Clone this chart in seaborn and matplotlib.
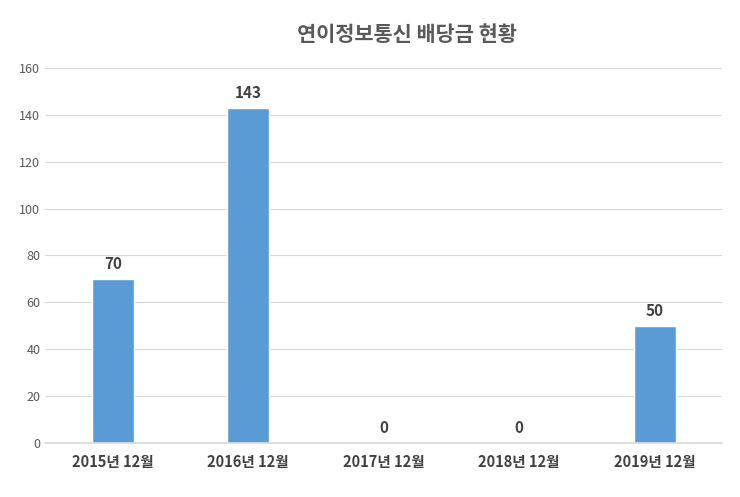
import matplotlib
matplotlib.use("Agg")
import matplotlib.pyplot as plt
import seaborn as sns
import pandas as pd

categories = ["2015년 12월", "2016년 12월", "2017년 12월", "2018년 12월", "2019년 12월"]
values = [70, 143, 0, 0, 50]
yticks = [0, 20, 40, 60, 80, 100, 120, 140, 160]

sns.set_theme(style="white")
plt.rcParams['font.family'] = ['Noto Sans CJK KR', 'DejaVu Sans']

df = pd.DataFrame({"cat": categories, "val": values})
fig = plt.figure(figsize=(7.4, 4.97), dpi=100)
ax = fig.add_axes([0.061, 0.109, 0.915, 0.754])
sns.barplot(data=df, x="cat", y="val", color="#5B9BD5", width=0.31, saturation=1, ax=ax)
ax.set_ylim(0, 160)
ax.set_yticks(yticks)
ax.yaxis.grid(True, color="#D9D9D9", linewidth=0.8)
ax.set_axisbelow(True)
for s in ["top", "right", "left"]:
    ax.spines[s].set_visible(False)
ax.spines["bottom"].set_color("#D9D9D9")
ax.set_xlabel("")
ax.set_ylabel("")
ax.tick_params(axis="y", labelsize=9, colors="#595959", length=0)
ax.tick_params(axis="x", labelsize=10.5, colors="#404040", length=0, pad=8)
for lbl in ax.get_xticklabels():
    lbl.set_fontweight("bold")
for i, v in enumerate(values):
    ax.text(i, v + 3, str(v), ha="center", va="bottom", fontsize=11, fontweight="bold", color="#404040")
fig.text(0.55, 0.93, "연이정보통신 배당금 현황", ha="center", va="center", fontsize=15, fontweight="bold", color="#595959")
fig.savefig("out.png", dpi=100)
